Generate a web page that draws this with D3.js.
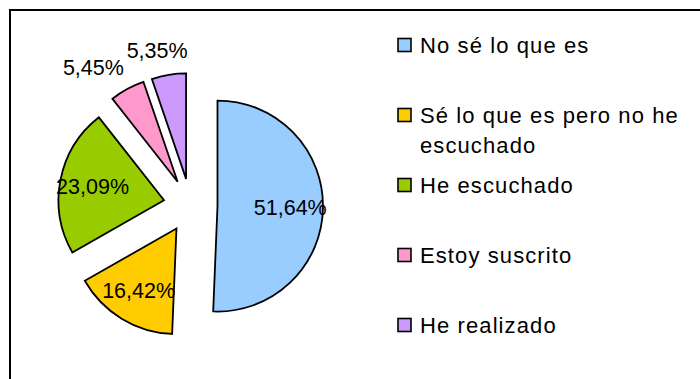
<!DOCTYPE html>
<html>
<head>
<meta charset="utf-8">
<script src="https://cdn.jsdelivr.net/npm/d3@7"></script>
<style>
  html, body { margin: 0; padding: 0; background: #fff; }
  svg { display: block; font-family: "Liberation Sans", Arial, sans-serif; }
</style>
</head>
<body>
<svg id="chart" width="700" height="379"></svg>
<script>
// Survey answers and their shares (%)
const categories = [
  "No sé lo que es",
  "Sé lo que es pero no he escuchado",
  "He escuchado",
  "Estoy suscrito",
  "He realizado"
];
const values = [51.64, 16.42, 23.09, 5.45, 5.35];
const colors = ["#99CCFF", "#FFCC00", "#99CC00", "#FF99CC", "#CC99FF"];

const svg = d3.select("#chart");
const W = 700, H = 379;

// Chart frame (runs off the right and bottom edges)
svg.append("rect")
  .attr("x", 10).attr("y", 10)
  .attr("width", W + 20).attr("height", H + 20)
  .attr("fill", "#fff")
  .attr("stroke", "#000")
  .attr("stroke-width", 2);

// Exploded pie
const cx = 190.5, cy = 205.5;
const radius = 105.5;
const explode = 27;

const pie = d3.pie().sort(null).value(d => d);
const arcs = pie(values);
const arc = d3.arc().innerRadius(0).outerRadius(radius);

const fmt = v => d3.format(".2f")(v).replace(".", ",") + "%";

const pieG = svg.append("g").attr("transform", `translate(${cx},${cy})`);

const slice = pieG.selectAll("g.slice")
  .data(arcs)
  .join("g")
  .attr("class", "slice")
  .attr("transform", d => {
    const m = (d.startAngle + d.endAngle) / 2;
    return `translate(${Math.sin(m) * explode},${-Math.cos(m) * explode})`;
  });

slice.append("path")
  .attr("d", arc)
  .attr("fill", (d, i) => colors[i])
  .attr("stroke", "#000")
  .attr("stroke-width", 1.8)
  .attr("stroke-linejoin", "miter");

// Percentage labels: inside for large slices, outside for thin ones
const labelSize = 21.5;
slice.each(function (d) {
  const g = d3.select(this);
  const m = (d.startAngle + d.endAngle) / 2;
  const dx = Math.sin(m), dy = -Math.cos(m);
  const frac = (d.endAngle - d.startAngle) / (2 * Math.PI);
  const t = g.append("text")
    .attr("font-size", labelSize)
    .attr("text-anchor", "middle")
    .attr("dy", "0.36em")
    .attr("fill", "#000")
    .text(fmt(d.data));
  if (frac > 0.1) {
    const rr = radius * 0.69;
    t.attr("x", dx * rr).attr("y", dy * rr);
  } else {
    const w = t.node().getComputedTextLength();
    const rr = radius + 10;
    t.attr("x", dx * rr + dx * w).attr("y", dy * rr + dy * labelSize * 0.7);
  }
});

// Legend
const legendX = 398;
const textX = 420;
const legendSize = 22;
const y = d3.scalePoint().domain(categories).range([45, 325]);

const leg = svg.append("g").selectAll("g")
  .data(categories)
  .join("g")
  .attr("transform", d => `translate(0,${y(d)})`);

leg.append("rect")
  .attr("x", legendX).attr("y", -6.5)
  .attr("width", 13).attr("height", 13)
  .attr("fill", (d, i) => colors[i])
  .attr("stroke", "#000")
  .attr("stroke-width", 1.6);

const maxLine = 275;
leg.each(function (d) {
  const g = d3.select(this);
  const t = g.append("text")
    .attr("x", textX)
    .attr("font-size", legendSize)
    .attr("letter-spacing", "1.1px")
    .attr("fill", "#000");
  const words = d.split(" ");
  let lines = [], cur = [];
  const probe = t.append("tspan");
  words.forEach(wd => {
    const test = cur.concat(wd).join(" ");
    probe.text(test);
    if (probe.node().getComputedTextLength() > maxLine && cur.length) {
      lines.push(cur.join(" "));
      cur = [wd];
    } else {
      cur.push(wd);
    }
  });
  lines.push(cur.join(" "));
  probe.remove();
  lines.forEach((ln, k) => {
    t.append("tspan")
      .attr("x", textX)
      .attr("y", k * 30)
      .attr("dy", "0.36em")
      .text(ln);
  });
});
</script>
</body>
</html>
